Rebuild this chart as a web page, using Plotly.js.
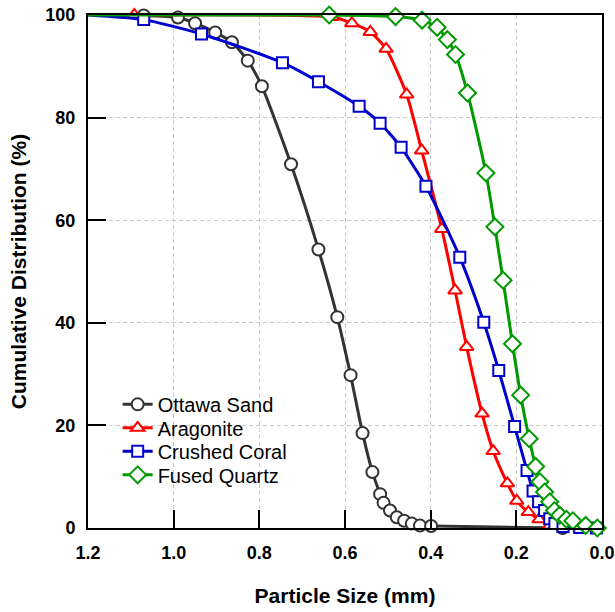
<!DOCTYPE html>
<html>
<head>
<meta charset="utf-8">
<script src="https://cdn.plot.ly/plotly-3.0.1.min.js"></script>
<style>html,body{margin:0;padding:0;background:#fff}#chart{width:615px;height:612px}</style>
</head>
<body>
<div id="chart"></div>
<script>
// Particle size (mm) and cumulative distribution (%)
var ottawaX = [1.07, 0.99, 0.95, 0.903, 0.864, 0.827, 0.794, 0.726, 0.662, 0.618, 0.587, 0.559, 0.536, 0.518, 0.510, 0.495, 0.479, 0.462, 0.444, 0.425, 0.399, 0.092];
var ottawaY = [99.9, 99.5, 98.4, 96.6, 94.7, 91.1, 86.1, 70.9, 54.3, 41.1, 29.8, 18.5, 10.9, 6.6, 4.9, 3.4, 2.1, 1.4, 0.86, 0.47, 0.4, 0];

var aragX = [1.092, 0.63, 0.584, 0.541, 0.504, 0.456, 0.421, 0.374, 0.343, 0.316, 0.280, 0.254, 0.221, 0.199, 0.172, 0.147, 0.122];
var aragY = [100, 99.6, 98.4, 96.7, 93.4, 84.5, 73.6, 58.3, 46.3, 35.3, 22.3, 15.0, 8.7, 5.3, 3.1, 1.7, 0.5];

var coralX = [1.2, 1.07, 0.935, 0.746, 0.662, 0.567, 0.518, 0.469, 0.411, 0.332, 0.276, 0.241, 0.204, 0.175, 0.161, 0.148, 0.134, 0.122, 0.110, 0.091, 0.052, 0.013];
var coralY = [100, 99.1, 96.3, 90.7, 87.0, 82.2, 78.9, 74.2, 66.6, 52.8, 40.1, 30.7, 19.8, 11.2, 7.2, 5.1, 3.4, 1.8, 0.9, 0.3, 0.1, 0];

var quartzX = [1.2, 0.637, 0.482, 0.420, 0.385, 0.361, 0.342, 0.314, 0.271, 0.250, 0.231, 0.209, 0.190, 0.170, 0.155, 0.145, 0.134, 0.122, 0.111, 0.099, 0.083, 0.068, 0.038, 0.011];
var quartzY = [100, 100, 99.7, 99.0, 97.6, 95.2, 92.3, 84.8, 69.2, 58.7, 48.3, 35.9, 25.9, 17.4, 12.0, 9.0, 7.0, 5.1, 3.4, 2.5, 1.7, 1.4, 0.5, 0];

var seriesNames = ['Ottawa Sand', 'Aragonite', 'Crushed Coral', 'Fused Quartz'];
var xTickVals = [1.2, 1.0, 0.8, 0.6, 0.4, 0.2, 0.0];
var xTickText = ['1.2', '1.0', '0.8', '0.6', '0.4', '0.2', '0.0'];
var yTickVals = [0, 20, 40, 60, 80, 100];

var FONT = 'Liberation Sans, Arial, sans-serif';

function mk(name, xs, ys, color, symbol, size, legendId) {
  return {
    type: 'scatter', mode: 'lines+markers', name: name, x: xs, y: ys,
    legend: legendId,
    line: {color: color, width: 3, shape: 'spline', smoothing: 0.6},
    marker: {symbol: symbol, size: size, color: '#ffffff',
      opacity: xs.map(function (v) { return v >= 1.2 ? 0 : 1; }),
      line: {color: color, width: 2}},
    cliponaxis: false
  };
}

var data = [
  mk(seriesNames[0], ottawaX, ottawaY, '#333333', 'circle', 12, 'legend'),
  mk(seriesNames[1], aragX, aragY, '#ff0000', 'triangle-up', 12, 'legend2'),
  mk(seriesNames[2], coralX, coralY, '#0000cc', 'square', 11, 'legend3'),
  mk(seriesNames[3], quartzX, quartzY, '#009900', 'diamond', 13, 'legend4')
];

function leg(rowPx) {
  return {x: 0.0577, y: (527.7 - rowPx) / 513.2, xanchor: 'left', yanchor: 'middle',
    bgcolor: 'rgba(0,0,0,0)', borderwidth: 0,
    font: {family: FONT, size: 20, color: '#000'}};
}

var layout = {
  width: 615, height: 612,
  margin: {l: 87.5, r: 12.7, t: 14.5, b: 84.3},
  paper_bgcolor: '#fff', plot_bgcolor: '#fff',
  showlegend: true,
  legend: leg(404), legend2: leg(427.5), legend3: leg(451), legend4: leg(474.5),
  xaxis: {
    range: [1.2, 0], tickvals: xTickVals, ticktext: xTickText,
    ticks: 'inside', ticklen: 18, tickwidth: 2, tickcolor: '#000',
    showline: true, linewidth: 2, linecolor: '#000', mirror: true,
    showgrid: true, gridcolor: '#c8c8c8', gridwidth: 1, griddash: '4px,3px',
    zeroline: false, tickfont: {family: FONT, size: 18, color: '#000', weight: 'bold'},
    ticklabelstandoff: 7, automargin: false,
    title: {text: '<b>Particle Size (mm)</b>', standoff: 27, font: {family: FONT, size: 21, color: '#000'}}
  },
  yaxis: {
    range: [0, 100], tickvals: yTickVals,
    ticks: 'inside', ticklen: 18, tickwidth: 2, tickcolor: '#000',
    showline: true, linewidth: 2, linecolor: '#000', mirror: true,
    showgrid: true, gridcolor: '#c8c8c8', gridwidth: 1, griddash: '4px,3px',
    zeroline: false, tickfont: {family: FONT, size: 18, color: '#000', weight: 'bold'},
    ticklabelstandoff: 7, automargin: false,
    title: {text: '<b>Cumulative Distribution (%)</b>', standoff: 13, font: {family: FONT, size: 21, color: '#000'}}
  }
};

Plotly.newPlot('chart', data, layout, {displayModeBar: false, staticPlot: true});
</script>
</body>
</html>
